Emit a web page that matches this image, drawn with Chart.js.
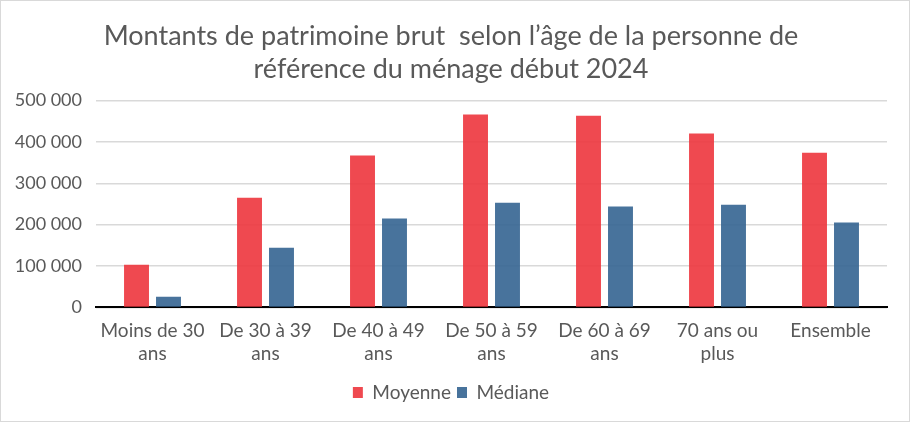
<!DOCTYPE html>
<html><head><meta charset="utf-8">
<script src="https://cdn.jsdelivr.net/npm/chart.js@4"></script>
<style>
html,body{margin:0;padding:0;background:#fff;}
#wrap{width:910px;height:422px;box-sizing:border-box;border:1px solid #d9d9d9;position:relative;}
canvas{display:block;}
</style></head>
<body><div id="wrap"><canvas id="c" width="908" height="420"></canvas></div>
<script>
const categories = [["Moins de 30","ans"],["De 30 à 39","ans"],["De 40 à 49","ans"],["De 50 à 59","ans"],["De 60 à 69","ans"],["70 ans ou","plus"],["Ensemble"]];
const moyenne = [103000, 265000, 367000, 466000, 463000, 420000, 374000];
const mediane = [26000, 144000, 215000, 253000, 244000, 248000, 205000];
const yTicks = [0, 100000, 200000, 300000, 400000, 500000];
const titleLines = ["Montants de patrimoine brut  selon l’âge de la personne de","référence du ménage début 2024"];

const FONT = "Lato, 'Open Sans', sans-serif";
const GREY = "#595959";
new Chart(document.getElementById('c'), {
  type: 'bar',
  data: {
    labels: categories,
    datasets: [
      {label: 'Moyenne', data: moyenne, backgroundColor: 'rgba(237,53,61,0.9)', categoryPercentage: 0.566, barPercentage: 0.78},
      {label: 'Médiane', data: mediane, backgroundColor: 'rgba(52,100,145,0.9)', categoryPercentage: 0.566, barPercentage: 0.78}
    ]
  },
  options: {
    responsive: false,
    animation: false,
    devicePixelRatio: 1,
    layout: {padding: {left: 14, right: 22, top: 12, bottom: 9}},
    plugins: {
      title: {display: true, text: titleLines, color: GREY, font: {family: FONT, size: 27, weight: 'normal', lineHeight: 1.25}, padding: {top: 6, bottom: 14}},
      legend: {position: 'bottom', labels: {color: GREY, font: {family: FONT, size: 19}, boxWidth: 10, boxHeight: 11, padding: 6}},
      tooltip: {enabled: false}
    },
    scales: {
      x: {
        grid: {display: false, drawTicks: false},
        border: {color: '#000', width: 2},
        ticks: {color: GREY, font: {family: FONT, size: 19, lineHeight: 1.2}, maxRotation: 0, autoSkip: false, padding: 12}
      },
      y: {
        min: 0, max: 500000,
        afterBuildTicks: s => { s.ticks = yTicks.map(v => ({value: v})); },
        afterFit: s => { s.width = 81; },
        grid: {color: '#d9d9d9', lineWidth: 1.5, drawTicks: false},
        border: {display: false},
        ticks: {color: GREY, font: {family: FONT, size: 18}, padding: 14,
          callback: v => String(v).replace(/\B(?=(\d{3})+(?!\d))/g, '\u00a0')}
      }
    }
  }
});
</script></body></html>
